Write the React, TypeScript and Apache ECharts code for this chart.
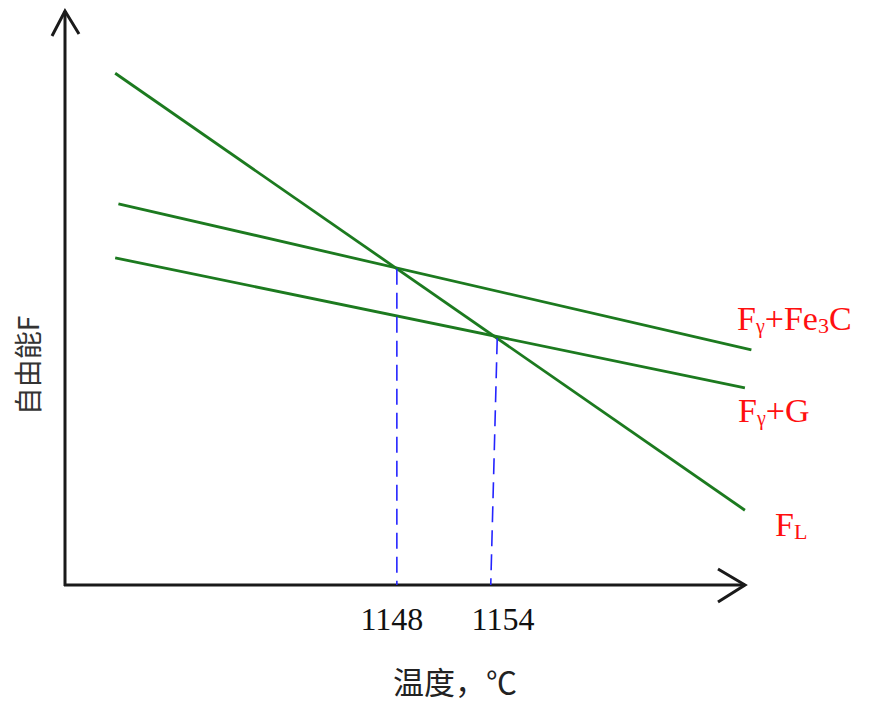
import React, { useEffect, useRef } from "react";
import * as echarts from "echarts";

// Temperatures marked on the x axis (°C)
const tickTemps = [1148, 1154];
// Free-energy lines (temperature °C, free energy arbitrary units)
const lineFL = [[1130.6, 89.0], [1169.5, 13.0]];
const lineFe3C = [[1130.8, 66.3], [1169.9, 40.9]];
const lineG = [[1130.6, 56.9], [1169.5, 34.3]];
// Dashed drop lines from the intersections to the axis
const drop1148 = [[1148, 55.0], [1148, 0]];
const drop1154 = [[1154.2, 42.9], [1153.8, 0]];

const xName = "温度，℃";
const yName = "自由能F";

const GREEN = "#1c7a1f";
const BLUE = "#2424ff";
const RED = "#ff1010";
const SERIF = "'Liberation Serif', 'Times New Roman', serif";

export default function App() {
  const ref = useRef<HTMLDivElement>(null);
  useEffect(() => {
    if (!ref.current) return;
    const chart = echarts.init(ref.current, null, { renderer: "svg" });
    const redRich = {
      m: { fontSize: 34, fontFamily: SERIF, fill: RED, lineHeight: 36 },
      s: { fontSize: 20, fontFamily: SERIF, fill: RED, verticalAlign: "bottom", lineHeight: 36 },
      n: { fontSize: 22, fontFamily: SERIF, fill: RED, verticalAlign: "bottom", lineHeight: 36 },
    };
    chart.setOption({
      animation: false,
      backgroundColor: "#ffffff",
      grid: { left: 65, top: 10, width: 688, height: 575, containLabel: false, outerBoundsMode: "none" },
      xAxis: {
        type: "value",
        min: 1127.5,
        max: 1170,
        axisLine: { show: false },
        axisTick: { show: false },
        splitLine: { show: false },
        axisLabel: {
          customValues: tickTemps,
          margin: 18,
          formatter: (v: number) => (v === tickTemps[0] ? `{a|${v}}` : `{b|${v}}`),
          rich: {
            a: { fontSize: 32, fontFamily: SERIF, color: "#111", padding: [0, 10, 0, 0] },
            b: { fontSize: 32, fontFamily: SERIF, color: "#111", padding: [0, 0, 0, 18] },
          },
        },
        name: xName,
        nameLocation: "middle",
        nameGap: 80,
        nameTextStyle: {
          fontSize: 31,
          fontFamily: "'Noto Sans CJK SC', sans-serif",
          color: "#222",
          padding: [0, 0, 0, 92],
        },
      },
      yAxis: {
        type: "value",
        min: 0,
        max: 100,
        axisLine: { show: false },
        axisTick: { show: false },
        splitLine: { show: false },
        axisLabel: { show: false },
        name: yName,
        nameLocation: "middle",
        nameRotate: 90,
        nameGap: 24,
        nameTextStyle: {
          fontSize: 28,
          fontFamily: "'Noto Sans CJK SC', sans-serif",
          color: "#333",
          padding: [0, 136, 0, 0],
        },
      },
      series: [
        { type: "line", data: lineFL, symbol: "none", lineStyle: { color: GREEN, width: 2.8 } },
        { type: "line", data: lineFe3C, symbol: "none", lineStyle: { color: GREEN, width: 2.8 } },
        { type: "line", data: lineG, symbol: "none", lineStyle: { color: GREEN, width: 2.8 } },
        { type: "line", data: drop1148, symbol: "none", lineStyle: { color: BLUE, width: 1.6, type: [16, 8] } },
        { type: "line", data: drop1154, symbol: "none", lineStyle: { color: BLUE, width: 1.6, type: [16, 8] } },
      ],
      graphic: [
        { type: "line", shape: { x1: 65, y1: 586, x2: 65, y2: 11 }, style: { stroke: "#1a1a1a", lineWidth: 3 } },
        { type: "polyline", shape: { points: [[52, 36], [65, 11], [79, 34]] }, style: { stroke: "#1a1a1a", lineWidth: 3, fill: "none" } },
        { type: "line", shape: { x1: 64, y1: 585, x2: 745, y2: 585 }, style: { stroke: "#1a1a1a", lineWidth: 3 } },
        { type: "polyline", shape: { points: [[718, 569], [745, 585], [718, 602]] }, style: { stroke: "#1a1a1a", lineWidth: 3, fill: "none" } },
        {
          type: "text", x: 737, y: 318,
          style: { text: "{m|F}{s|γ}{m|+Fe}{n|3}{m|C}", rich: redRich, fill: RED, align: "left", verticalAlign: "middle" },
        },
        {
          type: "text", x: 738, y: 410,
          style: { text: "{m|F}{s|γ}{m|+G}", rich: redRich, fill: RED, align: "left", verticalAlign: "middle" },
        },
        {
          type: "text", x: 775, y: 524,
          style: { text: "{m|F}{n|L}", rich: redRich, fill: RED, align: "left", verticalAlign: "middle" },
        },
      ],
    });
    return () => chart.dispose();
  }, []);
  return (
    <div
      ref={ref}
      style={{ position: "absolute", left: 0, top: 0, width: 874, height: 705, background: "#fff" }}
    />
  );
}
